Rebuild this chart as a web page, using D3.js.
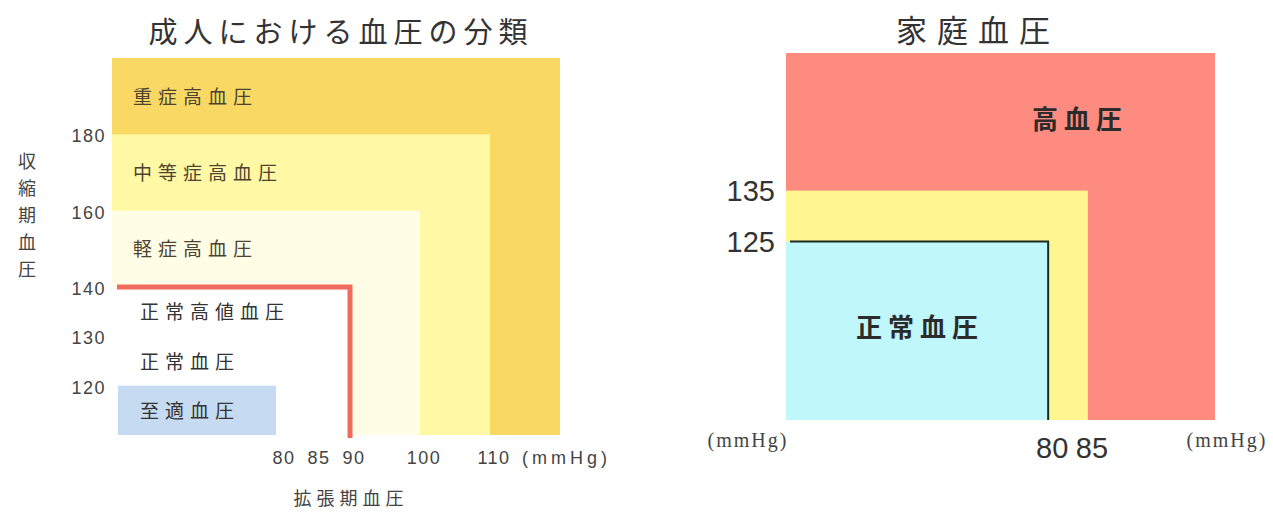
<!DOCTYPE html>
<html lang="ja">
<head>
<meta charset="utf-8">
<script src="https://cdn.jsdelivr.net/npm/d3@7"></script>
<style>
  html, body { margin: 0; padding: 0; background: #ffffff; }
  svg { display: block; }
  .jp { font-family: "Noto Sans CJK JP", "Noto Sans", sans-serif; }
  .num { font-family: "Liberation Sans", "DejaVu Sans", sans-serif; }
</style>
</head>
<body>
<svg id="chart" width="1273" height="512"></svg>
<script>
// ---- Adult blood pressure classification (left panel) ----
const adultCategories = ["重症高血圧", "中等症高血圧", "軽症高血圧", "正常高値血圧", "正常血圧", "至適血圧"];
// upper systolic bound of each band (mmHg)
const adultSystolicTop = [200, 180, 160, 140, 130, 120];
// upper diastolic bound of each band (mmHg)
const adultDiastolicTop = [120, 110, 100, 90, 85, 80];
const adultFills = ["#f9d964", "#fff9a6", "#fffde6", "#ffffff", "#ffffff", "#c6dbf1"];
const adultSystolicTicks = [180, 160, 140, 130, 120];
const adultDiastolicTicks = [80, 85, 90, 100, 110];
const adultSystolicMin = 110;
const adultDiastolicMin = 56;

// ---- Home blood pressure (right panel) ----
const homeCategories = ["高血圧", "", "正常血圧"];
const homeSystolicTop = [162, 135, 125];
const homeDiastolicTop = [101, 85, 80];
const homeFills = ["#fd8b80", "#fff68f", "#c0f7fa"];
const homeSystolicTicks = [135, 125];
const homeDiastolicTicks = [80, 85];
const homeSystolicMin = 90;
const homeDiastolicMin = 47;

const svg = d3.select("#chart");

// ================= left panel =================
const xL = d3.scaleLinear().domain([adultDiastolicMin, 120]).range([112, 560]);
// the printed chart stretches the range below 140 mmHg
const yL = d3.scaleLinear().domain([adultSystolicMin, 140, 200]).range([435, 287, 58]);

const left = svg.append("g");

const adultZones = adultCategories.map((c, i) => ({
  c, i, s: adultSystolicTop[i], d: adultDiastolicTop[i], fill: adultFills[i]
}));

left.selectAll("rect.zone")
  .data(adultZones)
  .join("rect")
  .attr("class", "zone")
  .attr("x", d => xL(adultDiastolicMin) + (d.i === 5 ? 6 : 0))
  .attr("y", d => yL(d.s))
  .attr("width", d => xL(d.d) - xL(adultDiastolicMin) - (d.i === 5 ? 10 : 0))
  .attr("height", d => yL(adultSystolicMin) - yL(d.s))
  .attr("fill", d => d.fill);

// normal-high boundary (140 / 90)
left.append("path")
  .attr("d", d3.line()([
    [xL(adultDiastolicMin) + 5, yL(140)],
    [xL(90), yL(140)],
    [xL(90), yL(adultSystolicMin) + 3]
  ]))
  .attr("fill", "none")
  .attr("stroke", "#f26a5c")
  .attr("stroke-width", 5);

// band labels, centred in each systolic band
left.selectAll("text.band")
  .data(adultZones.map(z => ({
    ...z, mid: (z.s + (adultSystolicTop[z.i + 1] ?? adultSystolicMin)) / 2
  })))
  .join("text")
  .attr("class", "band jp")
  .attr("x", d => xL(adultDiastolicMin) + (d.i < 3 ? 21 : 28))
  .attr("y", d => yL(d.mid) - 1)
  .attr("dominant-baseline", "central")
  .attr("font-size", 19)
  .attr("letter-spacing", 6)
  .attr("fill", d => d.i < 3 ? "#4e4330" : "#333")
  .text(d => d.c);

// systolic ticks
left.selectAll("text.ytick")
  .data(adultSystolicTicks)
  .join("text")
  .attr("class", "ytick num")
  .attr("x", 106)
  .attr("y", d => yL(d) + 2)
  .attr("text-anchor", "end")
  .attr("dominant-baseline", "central")
  .attr("font-size", 18)
  .attr("letter-spacing", 1.5)
  .attr("fill", "#444")
  .text(d => d);

// diastolic ticks
left.selectAll("text.xtick")
  .data(adultDiastolicTicks)
  .join("text")
  .attr("class", "xtick num")
  .attr("x", d => xL(d) + 4)
  .attr("y", 458)
  .attr("text-anchor", "middle")
  .attr("dominant-baseline", "central")
  .attr("font-size", 18)
  .attr("letter-spacing", 1.5)
  .attr("fill", "#444")
  .text(d => d);

left.append("text")
  .attr("class", "num")
  .attr("x", 522)
  .attr("y", 458)
  .attr("dominant-baseline", "central")
  .attr("font-size", 18)
  .attr("letter-spacing", 4)
  .attr("fill", "#444")
  .text("(mmHg)");

// title and axis names
left.append("text")
  .attr("class", "jp")
  .attr("x", 341)
  .attr("y", 30)
  .attr("text-anchor", "middle")
  .attr("dominant-baseline", "central")
  .attr("font-size", 29)
  .attr("letter-spacing", 6)
  .attr("fill", "#333")
  .text("成人における血圧の分類");

left.append("text")
  .attr("class", "jp")
  .attr("x", 351)
  .attr("y", 497)
  .attr("text-anchor", "middle")
  .attr("dominant-baseline", "central")
  .attr("font-size", 18)
  .attr("letter-spacing", 5)
  .attr("fill", "#444")
  .text("拡張期血圧");

left.selectAll("text.yname")
  .data(Array.from("収縮期血圧"))
  .join("text")
  .attr("class", "yname jp")
  .attr("x", 27)
  .attr("y", (d, i) => 160 + i * 27)
  .attr("text-anchor", "middle")
  .attr("dominant-baseline", "central")
  .attr("font-size", 18)
  .attr("fill", "#444")
  .text(d => d);

// ================= right panel =================
const xR = d3.scaleLinear().domain([homeDiastolicMin, 101]).range([786, 1215]);
const yR = d3.scaleLinear().domain([homeSystolicMin, 162]).range([420, 53]);

const right = svg.append("g");

right.selectAll("rect.zone")
  .data(homeCategories.map((c, i) => ({ c, s: homeSystolicTop[i], d: homeDiastolicTop[i], fill: homeFills[i] })))
  .join("rect")
  .attr("class", "zone")
  .attr("x", xR(homeDiastolicMin))
  .attr("y", d => yR(d.s))
  .attr("width", d => xR(d.d) - xR(homeDiastolicMin))
  .attr("height", d => yR(homeSystolicMin) - yR(d.s))
  .attr("fill", d => d.fill);

// normal boundary (125 / 80)
right.append("path")
  .attr("d", d3.line()([
    [xR(homeDiastolicMin) + 4, yR(125)],
    [xR(80), yR(125)],
    [xR(80), yR(homeSystolicMin)]
  ]))
  .attr("fill", "none")
  .attr("stroke", "#1d2a22")
  .attr("stroke-width", 2);

right.append("text")
  .attr("class", "jp")
  .attr("x", xR(84))
  .attr("y", yR((homeSystolicTop[0] + homeSystolicTop[1]) / 2) - 4)
  .attr("text-anchor", "middle")
  .attr("dominant-baseline", "central")
  .attr("font-size", 26)
  .attr("font-weight", 700)
  .attr("letter-spacing", 6)
  .attr("fill", "#2b2b2b")
  .text(homeCategories[0]);

right.append("text")
  .attr("class", "jp")
  .attr("x", xR((homeDiastolicMin + homeDiastolicTop[2]) / 2) + 3)
  .attr("y", yR((homeSystolicMin + homeSystolicTop[2]) / 2) - 5)
  .attr("text-anchor", "middle")
  .attr("dominant-baseline", "central")
  .attr("font-size", 26)
  .attr("font-weight", 700)
  .attr("letter-spacing", 6)
  .attr("fill", "#2b2b2b")
  .text(homeCategories[2]);

right.selectAll("text.ytick")
  .data(homeSystolicTicks)
  .join("text")
  .attr("class", "ytick num")
  .attr("x", 775)
  .attr("y", d => yR(d))
  .attr("text-anchor", "end")
  .attr("dominant-baseline", "central")
  .attr("font-size", 29)
  .attr("fill", "#333")
  .text(d => d);

right.selectAll("text.xtick")
  .data(homeDiastolicTicks)
  .join("text")
  .attr("class", "xtick num")
  .attr("x", d => xR(d) + 4)
  .attr("y", 448)
  .attr("text-anchor", "middle")
  .attr("dominant-baseline", "central")
  .attr("font-size", 29)
  .attr("fill", "#333")
  .text(d => d);

right.selectAll("text.unit")
  .data([[748, 440], [1227, 440]])
  .join("text")
  .attr("class", "unit")
  .attr("x", d => d[0])
  .attr("y", d => d[1])
  .attr("text-anchor", "middle")
  .attr("dominant-baseline", "central")
  .attr("font-family", "'Liberation Serif', 'DejaVu Serif', serif")
  .attr("font-size", 20)
  .attr("letter-spacing", 2)
  .attr("fill", "#444")
  .text("(mmHg)");

right.append("text")
  .attr("class", "jp")
  .attr("x", 978)
  .attr("y", 28)
  .attr("text-anchor", "middle")
  .attr("dominant-baseline", "central")
  .attr("font-size", 31)
  .attr("letter-spacing", 10)
  .attr("fill", "#333")
  .text("家庭血圧");
</script>
</body>
</html>
